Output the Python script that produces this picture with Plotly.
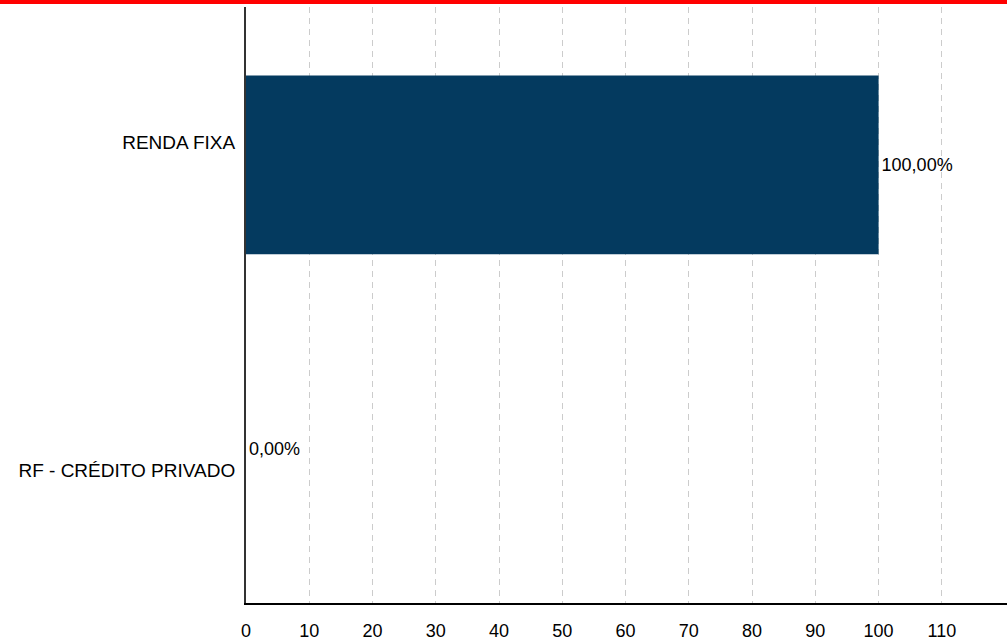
import plotly.graph_objects as go

categories = ["RENDA FIXA", "RF - CRÉDITO PRIVADO"]
values = [100.0, 0.0]
labels = ["100,00%", "0,00%"]
x_ticks = [0, 10, 20, 30, 40, 50, 60, 70, 80, 90, 100, 110]

bar_colors = ["#043a5f", "#6a9fd6"]
bar_offsets = [-0.342, -0.242]
bar_widths = [0.545, 0.612]

FONT = "Liberation Sans, Arial, sans-serif"

fig = go.Figure()
fig.add_trace(go.Bar(
    y=categories,
    x=values,
    orientation="h",
    marker=dict(color=bar_colors, line=dict(width=0)),
    offset=bar_offsets,
    width=bar_widths,
    text=labels,
    textposition="outside",
    cliponaxis=False,
    constraintext="none",
    textfont=dict(family=FONT, size=18, color="#000000"),
    hoverinfo="skip",
))

fig.update_layout(
    width=1007,
    height=641,
    margin=dict(l=246, r=0, t=7, b=34),
    paper_bgcolor="#ffffff",
    plot_bgcolor="#ffffff",
    showlegend=False,
    font=dict(family=FONT, size=18, color="#000000"),
    xaxis=dict(
        range=[0, 120.3],
        tickmode="array",
        tickvals=x_ticks,
        ticktext=[str(v) for v in x_ticks],
        showgrid=True,
        gridcolor="#cccccc",
        gridwidth=1,
        griddash="6px,5px",
        zeroline=False,
        showline=True,
        linecolor="#000000",
        linewidth=2,
        ticks="",
        ticklabelstandoff=10,
        tickfont=dict(family=FONT, size=18, color="#000000"),
    ),
    yaxis=dict(
        type="category",
        categoryorder="array",
        categoryarray=list(reversed(categories)),
        range=[-0.406, 1.412],
        showgrid=False,
        zeroline=False,
        showline=True,
        linecolor="#333333",
        linewidth=2,
        ticks="",
        ticklabelstandoff=5,
        tickfont=dict(family=FONT, size=19, color="#000000"),
    ),
    shapes=[dict(
        type="rect", xref="paper", yref="paper",
        x0=-0.5, x1=1.5, y0=1 + 3 / 600, y1=1 + 10 / 600,
        fillcolor="#ff0000", line=dict(width=0), layer="above",
    )],
)

fig.write_html(
    "out.html",
    config={"displayModeBar": False},
    post_script="document.body.style.margin='0';document.body.style.overflow='hidden';",
)
